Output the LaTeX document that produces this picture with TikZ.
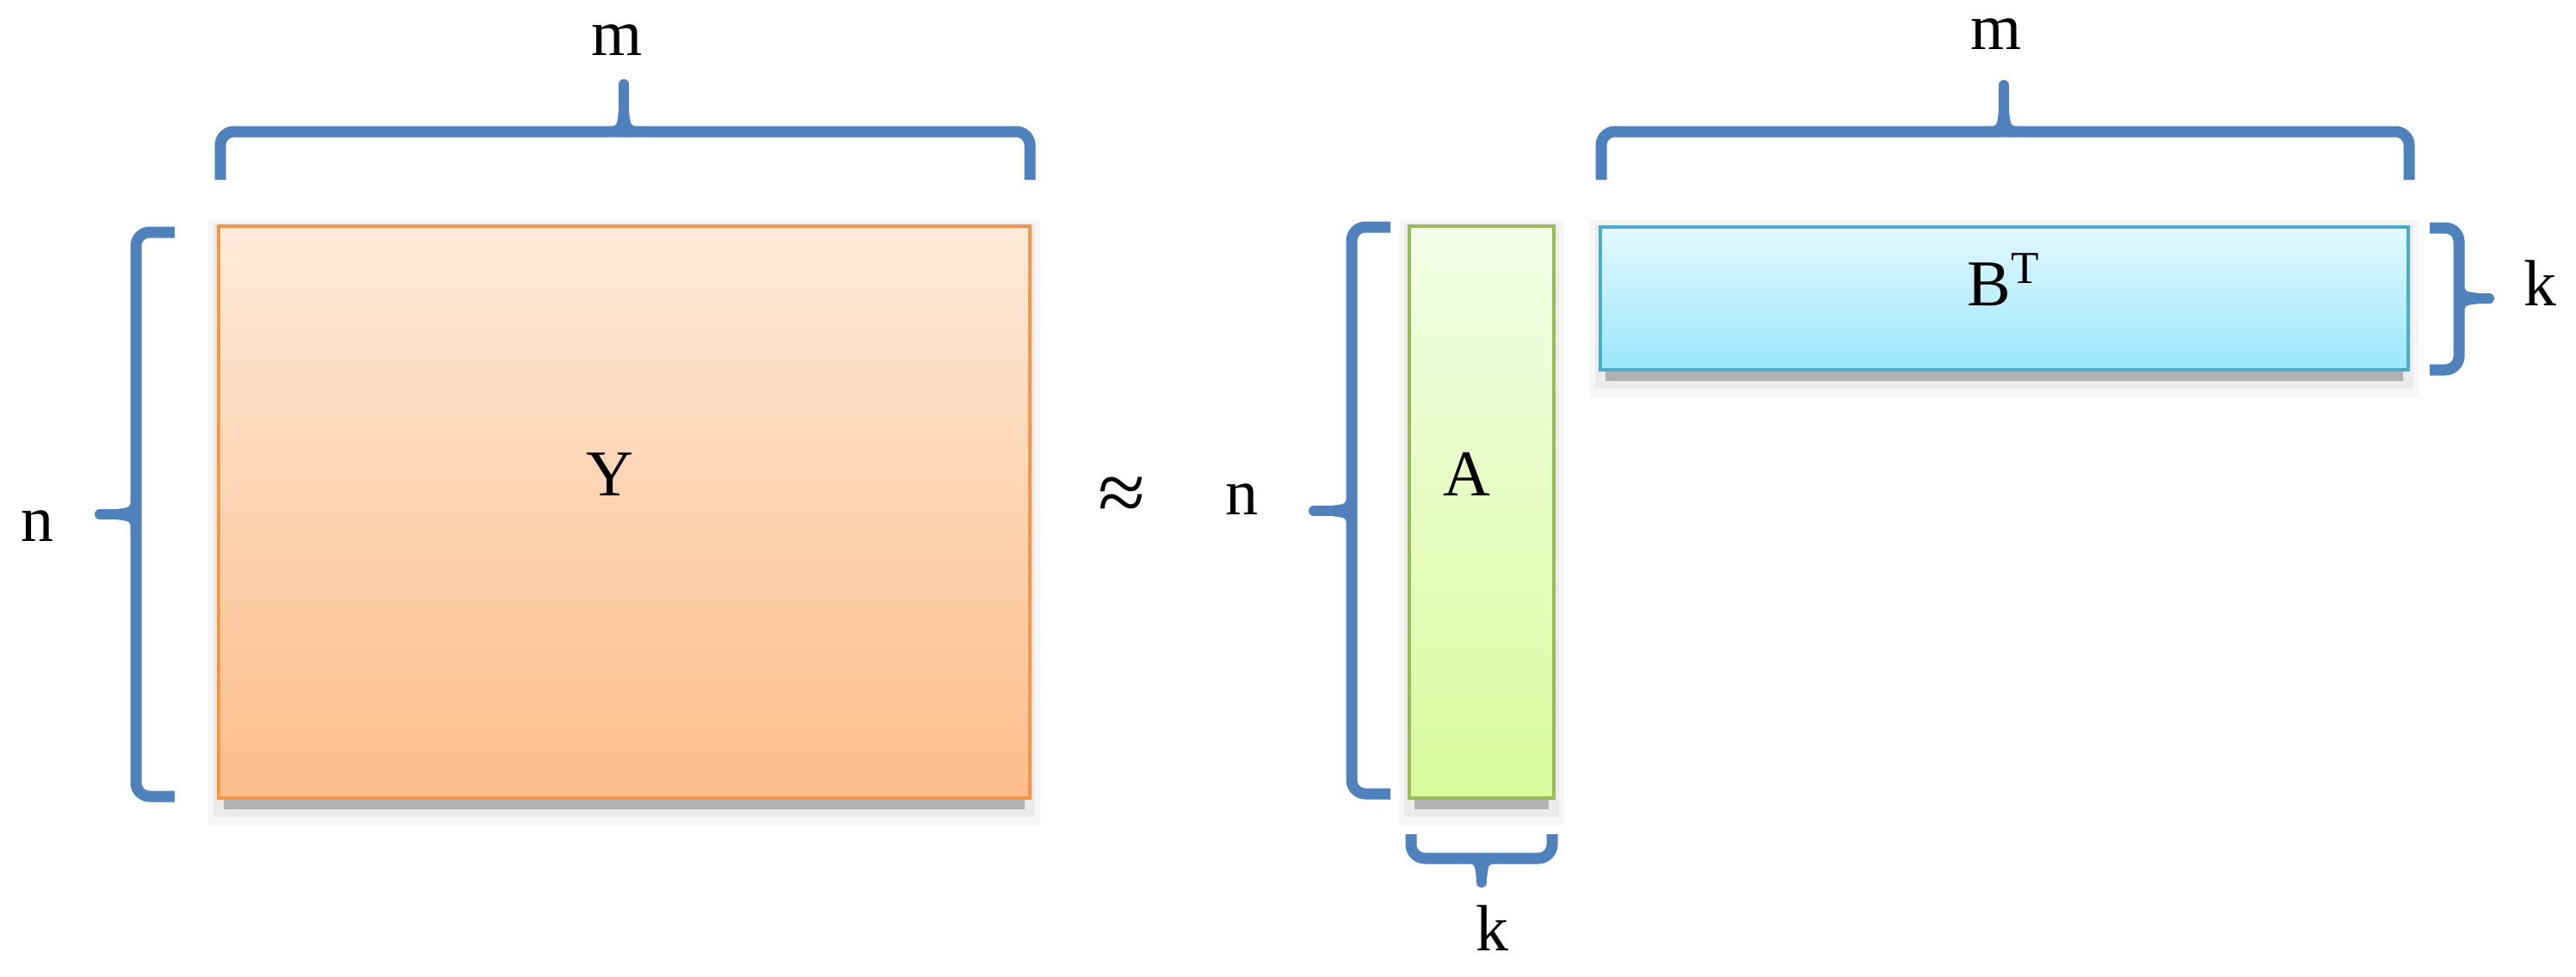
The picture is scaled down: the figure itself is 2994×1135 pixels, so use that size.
\documentclass[tikz,border=0pt]{standalone}
\usepackage{fontspec}
\setmainfont{Liberation Serif}
\definecolor{brcblue}{HTML}{4F81BD}
\definecolor{ybord}{HTML}{F79646}
\definecolor{ytop}{HTML}{FDEADA}
\definecolor{ybot}{HTML}{FCBD8A}
\definecolor{abord}{HTML}{9BBB59}
\definecolor{atop}{HTML}{F4FDE8}
\definecolor{abot}{HTML}{D7FB9C}
\definecolor{bbord}{HTML}{4BACC6}
\definecolor{btop}{HTML}{E3F8FE}
\definecolor{bbot}{HTML}{9BE7FB}
\tikzset{
  brc/.style={draw=brcblue, line width=3.25pt, line cap=butt, line join=round, rounded corners=4pt},
  brctip/.style={draw=brcblue, line width=3pt, line cap=round},
  brcfill/.style={fill=brcblue},
  lbl/.style={font=\fontsize{19}{23}\selectfont, inner sep=0pt, text=black},
  mbox/.style={rectangle, line width=1.1pt, inner sep=0pt},
}
\newcommand\BrcTop[6]{%
  \draw[brc] (#1,#5) -- (#1,#4) -- (#2,#4) -- (#2,#5);
  \draw[brctip] (#3,#4) -- (#3,#6+6);
  \fill[brcfill] (#3-18,#4-6) .. controls (#3-8,#4-6) .. (#3-6,#4-24) -- (#3+6,#4-24) .. controls (#3+8,#4-6) .. (#3+18,#4-6) -- cycle;}
\newcommand\BrcBot[6]{%
  \draw[brc] (#1,#5) -- (#1,#4) -- (#2,#4) -- (#2,#5);
  \draw[brctip] (#3,#4) -- (#3,#6-6);
  \fill[brcfill] (#3-18,#4+6) .. controls (#3-8,#4+6) .. (#3-6,#4+24) -- (#3+6,#4+24) .. controls (#3+8,#4+6) .. (#3+18,#4+6) -- cycle;}
\newcommand\BrcLft[6]{%
  \draw[brc] (#2,#3) -- (#1,#3) -- (#1,#4) -- (#2,#4);
  \draw[brctip] (#1,#6) -- (#5+6,#6);
  \fill[brcfill] (#1-6,#6-18) .. controls (#1-6,#6-8) .. (#1-24,#6-6) -- (#1-24,#6+6) .. controls (#1-6,#6+8) .. (#1-6,#6+18) -- cycle;}
\newcommand\BrcRgt[6]{%
  \draw[brc] (#2,#3) -- (#1,#3) -- (#1,#4) -- (#2,#4);
  \draw[brctip] (#1,#6) -- (#5-6,#6);
  \fill[brcfill] (#1+6,#6-18) .. controls (#1+6,#6-8) .. (#1+24,#6-6) -- (#1+24,#6+6) .. controls (#1+6,#6+8) .. (#1+6,#6+18) -- cycle;}
\newcommand\BoxShadow[4]{%
  \fill[black!3] (#1-12,#2-8) rectangle (#3+12,#4+32);
  \fill[black!8] (#1-6,#2-3) rectangle (#3+6,#4+22);
  \fill[black!30] (#1+6,#4) rectangle (#3-6,#4+13);}
\begin{document}
\begin{tikzpicture}[x=0.25pt, y=-0.25pt]
\useasboundingbox (0,0) rectangle (2994,1135);
\fill[white] (0,0) rectangle (2994,1135);

% shadows
\BoxShadow{254}{263}{1197}{928}
\BoxShadow{1638}{263}{1806}{928}
\BoxShadow{1860}{264}{2799}{430}

% matrices
\node[mbox, draw=ybord, top color=ytop, bottom color=ybot,
      minimum width=235.75pt, minimum height=166.25pt] (Y) at (725.5,595.5) {};
\node[mbox, draw=abord, top color=atop, bottom color=abot,
      minimum width=42pt, minimum height=166.25pt] (A) at (1722,595.5) {};
\node[mbox, draw=bbord, top color=btop, bottom color=bbot,
      minimum width=234.75pt, minimum height=41.5pt] (B) at (2329.5,347) {};

% braces
\BrcTop{256}{1197}{725}{153}{209}{92}
\BrcTop{1861}{2800}{2329}{153}{209}{93}
\BrcLft{158}{203}{270}{926}{110}{598}
\BrcLft{1571}{1616}{264}{923}{1521}{594}
\BrcBot{1640}{1804}{1722}{998}{970}{1032}
\BrcRgt{2858}{2824}{265}{430}{2899}{347}

% labels
\node[lbl] (Ylbl) at (709,552) {Y};
\node[lbl] (Albl) at (1705,551) {A};
\node[lbl, anchor=base] (Blbl) at (2329,355) {B\textsuperscript{T}};
\node[lbl, font=\fontsize{25}{30}\selectfont] (approx) at (1304,581) {≈};
\node[lbl] (m1) at (717,47) {m};
\node[lbl] (m2) at (2320,40) {m};
\node[lbl] (n1) at (43,612) {n};
\node[lbl] (n2) at (1443,581) {n};
\node[lbl] (k1) at (1734,1079) {k};
\node[lbl] (k2) at (2952,329) {k};
\end{tikzpicture}
\end{document}
